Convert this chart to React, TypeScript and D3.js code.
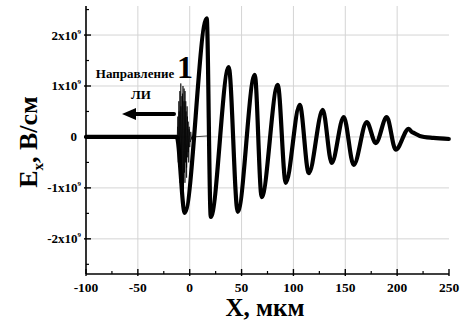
import React from "react";
import * as d3 from "d3";

const W = 462;
const H = 325;

// Main field profile (X, мкм ; Ex in units of 1e9 В/см) — read at extrema
const mainX = [-100, -12.5, -4.8, 16.4, 20.3, 37.6, 46.3, 62.7, 69.4, 84.9, 92.6, 106.1, 114.8, 128.3, 136.9, 148.5, 158.1, 170.7, 179.4, 190.0, 198.6, 211.2, 214.0, 216.0, 221.8, 235, 249.8];
const mainE = [0, 0, -1.49, 2.33, -1.57, 1.37, -1.47, 1.22, -1.18, 1.02, -0.9, 0.63, -0.71, 0.53, -0.51, 0.39, -0.55, 0.29, -0.12, 0.39, -0.25, 0.16, 0.1, 0.08, 0.02, -0.02, -0.04];

// Thin noisy precursor near the front
const noiseX = [-12, -11.5, -11, -10.5, -10, -9.5, -9, -8.5, -8, -7.5, -7, -6.5, -6, -5.5, -5, -4.5, -4, -3.5, -3, -2.5, -2, -1.5, -1, -0.5, 0, 1, 2, 3, 17];
const noiseE = [0, 0.4, -0.3, 0.7, -0.6, 0.9, -0.8, 0.6, -1.0, 0.8, -0.9, 1.0, -1.1, 0.7, -0.7, 0.9, -0.5, 0.5, -0.8, 0.6, -0.4, 0.3, -0.5, 0.2, -0.2, 0.1, -0.05, 0, 0.02];
const noise2X = [-11.8, -11, -10.2, -9.4, -8.6, -7.8, -7, -6.2, -5.4, -4.6, -3.8, -3, -2.2, -1.4, -0.6, 0.5, 2];
const noise2E = [0.2, -0.5, 0.5, -0.9, 1.05, -0.6, 0.85, -1.2, 0.95, -0.9, 0.7, -0.6, 0.4, -0.3, 0.15, -0.1, 0];

const xTicks = [-100, -50, 0, 50, 100, 150, 200, 250];
const xMinor = [-75, -25, 25, 75, 125, 175, 225];
const yTicks = [-2, -1, 0, 1, 2];
const yMinor = [-2.5, -1.5, -0.5, 0.5, 1.5, 2.5];

const xLabel = "X, мкм";
const yLabelMain = "E";
const yLabelSub = "x";
const yLabelRest = ", В/см";
const annotText1 = "Направление";
const annotText2 = "ЛИ";
const curveLabel = "1";

const FONT = "'Liberation Serif', 'DejaVu Serif', serif";

export default function App() {
  const left = 86, right = 449, top = 6, bottom = 274;
  const x = d3.scaleLinear().domain([-100, 250]).range([left, right]);
  const y = d3.scaleLinear().domain([-2.69, 2.57]).range([bottom, top]);

  const line = d3
    .line<number>()
    .x((_, i) => x(mainX[i]))
    .y((d) => y(d))
    .curve(d3.curveMonotoneX);
  const mainPath = line(mainE) || "";

  const nLine = (xs: number[]) =>
    d3
      .line<number>()
      .x((_, i) => x(xs[i]))
      .y((d) => y(d));
  const noisePath = nLine(noiseX)(noiseE) || "";
  const noise2Path = nLine(noise2X)(noise2E) || "";

  const grid = "#d4d4d4";
  const ts = { fontFamily: FONT, fontWeight: 700 as const };

  return (
    <svg width={W} height={H} style={{ position: "absolute", left: 0, top: 0, background: "#fff" }}>
      <rect x={0} y={0} width={W} height={H} fill="#fff" />
      {/* grid */}
      {xTicks.slice(1, -1).map((t) => (
        <line key={"gx" + t} x1={x(t)} x2={x(t)} y1={top} y2={bottom} stroke={grid} strokeWidth={1} />
      ))}
      {yTicks.map((t) => (
        <line key={"gy" + t} x1={left} x2={right} y1={y(t)} y2={y(t)} stroke={grid} strokeWidth={1} />
      ))}

      {/* noise */}
      <path d={noisePath} fill="none" stroke="#000" strokeWidth={0.7} />
      <path d={noise2Path} fill="none" stroke="#000" strokeWidth={0.7} />
      {/* main curve */}
      <path d={mainPath} fill="none" stroke="#000" strokeWidth={4.2} strokeLinejoin="round" strokeLinecap="round" />

      {/* axes */}
      <line x1={left} x2={left} y1={top} y2={bottom} stroke="#000" strokeWidth={1.6} />
      <line x1={left} x2={right} y1={bottom} y2={bottom} stroke="#000" strokeWidth={1.6} />
      {xTicks.map((t) => (
        <g key={"xt" + t}>
          <line x1={x(t)} x2={x(t)} y1={bottom - 5} y2={bottom + 2} stroke="#000" strokeWidth={1.4} />
          <text x={x(t)} y={292} textAnchor="middle" fontSize={13.5} style={ts}>
            {t}
          </text>
        </g>
      ))}
      {xMinor.map((t) => (
        <line key={"xm" + t} x1={x(t)} x2={x(t)} y1={bottom - 3} y2={bottom} stroke="#000" strokeWidth={1.2} />
      ))}
      {yTicks.map((t) => (
        <g key={"yt" + t}>
          <line x1={left - 2} x2={left + 5} y1={y(t)} y2={y(t)} stroke="#000" strokeWidth={1.4} />
          {t === 0 ? (
            <text x={77} y={y(t) + 4.5} textAnchor="end" fontSize={13} style={ts}>
              0
            </text>
          ) : (
            <text x={81} y={y(t) + 4.5} textAnchor="end" fontSize={13} style={ts}>
              {`${t}x10`}
              <tspan fontSize={7} dy={-6}>9</tspan>
            </text>
          )}
        </g>
      ))}
      {yMinor.map((t) => (
        <line key={"ym" + t} x1={left} x2={left + 3} y1={y(t)} y2={y(t)} stroke="#000" strokeWidth={1.2} />
      ))}

      {/* axis titles */}
      <text x={265} y={316} textAnchor="middle" fontSize={25} style={ts}>
        {xLabel}
      </text>
      <text transform="translate(37,142) rotate(-90)" textAnchor="middle" fontSize={26} style={ts}>
        {yLabelMain}
        <tspan fontSize={15} dy={6}>{yLabelSub}</tspan>
        <tspan dy={-6}>{yLabelRest}</tspan>
      </text>

      {/* annotation */}
      <text x={135} y={78} textAnchor="middle" fontSize={13} style={ts}>
        {annotText1}
      </text>
      <text x={141} y={99} textAnchor="middle" fontSize={13} style={ts}>
        {annotText2}
      </text>
      <text x={185} y={78} textAnchor="middle" fontSize={32} style={ts}>
        {curveLabel}
      </text>
      <line x1={174} x2={132} y1={114} y2={114} stroke="#000" strokeWidth={4} strokeLinecap="round" />
      <path d="M122,114 L136,108 L136,120 Z" fill="#000" />
    </svg>
  );
}
